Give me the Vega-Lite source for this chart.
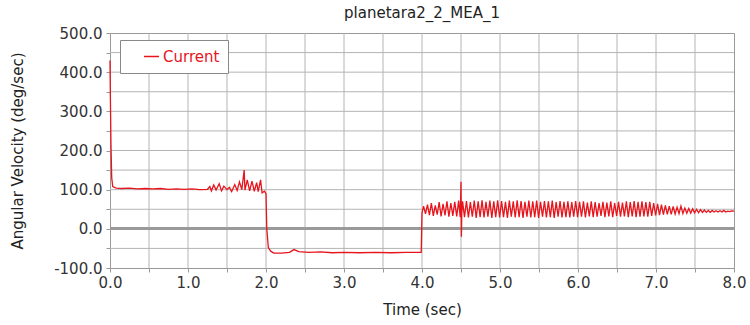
{
  "$schema": "https://vega.github.io/schema/vega-lite/v6.json",
  "width": 624,
  "height": 235,
  "autosize": {"type": "none"},
  "padding": {"left": 110, "top": 33, "right": 16, "bottom": 57},
  "title": {"text": "planetara2_2_MEA_1", "fontSize": 15, "fontWeight": "normal", "font": "DejaVu Sans", "color": "#222", "offset": 5},
  "config": {
    "view": {"stroke": "#999", "strokeWidth": 1},
    "axis": {
      "labelFont": "DejaVu Sans", "titleFont": "DejaVu Sans", "labelFontSize": 15, "titleFontSize": 15,
      "titleFontWeight": "normal", "labelColor": "#333", "titleColor": "#222",
      "domain": false, "tickColor": "#999", "tickSize": 4, "grid": false
    }
  },
  "data": {"values": [
    {"t": 0, "v": 430}, {"t": 0.004, "v": 350}, {"t": 0.012, "v": 220}, {"t": 0.022, "v": 130}, {"t": 0.035, "v": 108},
    {"t": 0.08, "v": 104}, {"t": 0.15, "v": 103}, {"t": 0.25, "v": 104}, {"t": 0.35, "v": 102}, {"t": 0.45, "v": 103},
    {"t": 0.55, "v": 102}, {"t": 0.65, "v": 103}, {"t": 0.75, "v": 101}, {"t": 0.85, "v": 102}, {"t": 0.95, "v": 101},
    {"t": 1.05, "v": 102}, {"t": 1.15, "v": 100}, {"t": 1.25, "v": 101},
    {"t": 1.28, "v": 108}, {"t": 1.3, "v": 97}, {"t": 1.33, "v": 112}, {"t": 1.36, "v": 99}, {"t": 1.4, "v": 115},
    {"t": 1.43, "v": 97}, {"t": 1.46, "v": 109}, {"t": 1.5, "v": 100}, {"t": 1.53, "v": 106}, {"t": 1.56, "v": 95},
    {"t": 1.6, "v": 113}, {"t": 1.63, "v": 98}, {"t": 1.66, "v": 120}, {"t": 1.69, "v": 100}, {"t": 1.72, "v": 150},
    {"t": 1.73, "v": 99}, {"t": 1.76, "v": 125}, {"t": 1.79, "v": 97}, {"t": 1.82, "v": 122}, {"t": 1.85, "v": 96},
    {"t": 1.88, "v": 118}, {"t": 1.9, "v": 95}, {"t": 1.93, "v": 125}, {"t": 1.95, "v": 92}, {"t": 1.98, "v": 96},
    {"t": 2.0, "v": 90}, {"t": 2.01, "v": 0}, {"t": 2.03, "v": -48}, {"t": 2.06, "v": -57}, {"t": 2.1, "v": -62},
    {"t": 2.2, "v": -62}, {"t": 2.3, "v": -60}, {"t": 2.36, "v": -53}, {"t": 2.42, "v": -58}, {"t": 2.55, "v": -60},
    {"t": 2.7, "v": -59}, {"t": 2.85, "v": -61}, {"t": 3.0, "v": -60}, {"t": 3.2, "v": -61}, {"t": 3.4, "v": -60},
    {"t": 3.6, "v": -61}, {"t": 3.8, "v": -60}, {"t": 3.99, "v": -60}, {"t": 4.0, "v": 40},
    {"t": 4.02, "v": 58}, {"t": 4.045, "v": 38}, {"t": 4.07, "v": 62}, {"t": 4.095, "v": 35}, {"t": 4.12, "v": 66}, {"t": 4.145, "v": 33},
    {"t": 4.17, "v": 60}, {"t": 4.195, "v": 36}, {"t": 4.22, "v": 68}, {"t": 4.245, "v": 32}, {"t": 4.27, "v": 64}, {"t": 4.295, "v": 34},
    {"t": 4.32, "v": 70}, {"t": 4.345, "v": 31}, {"t": 4.37, "v": 66}, {"t": 4.395, "v": 33}, {"t": 4.42, "v": 69}, {"t": 4.445, "v": 32},
    {"t": 4.47, "v": 72}, {"t": 4.49, "v": 30}, {"t": 4.5, "v": 120}, {"t": 4.505, "v": -20}, {"t": 4.51, "v": 40},
    {"t": 4.52, "v": 70}, {"t": 4.545, "v": 30}, {"t": 4.57, "v": 71}, {"t": 4.595, "v": 29}, {"t": 4.62, "v": 68}, {"t": 4.645, "v": 31},
    {"t": 4.67, "v": 72}, {"t": 4.695, "v": 28}, {"t": 4.72, "v": 70}, {"t": 4.745, "v": 30}, {"t": 4.77, "v": 73}, {"t": 4.795, "v": 29},
    {"t": 4.82, "v": 69}, {"t": 4.845, "v": 31}, {"t": 4.87, "v": 72}, {"t": 4.895, "v": 28}, {"t": 4.92, "v": 70}, {"t": 4.945, "v": 30},
    {"t": 4.97, "v": 73}, {"t": 4.995, "v": 29}, {"t": 5.02, "v": 71}, {"t": 5.045, "v": 30}, {"t": 5.07, "v": 69}, {"t": 5.095, "v": 28},
    {"t": 5.12, "v": 72}, {"t": 5.145, "v": 31}, {"t": 5.17, "v": 70}, {"t": 5.195, "v": 29}, {"t": 5.22, "v": 73}, {"t": 5.245, "v": 30},
    {"t": 5.27, "v": 71}, {"t": 5.295, "v": 28}, {"t": 5.32, "v": 69}, {"t": 5.345, "v": 31}, {"t": 5.37, "v": 72}, {"t": 5.395, "v": 29},
    {"t": 5.42, "v": 70}, {"t": 5.445, "v": 30}, {"t": 5.47, "v": 72}, {"t": 5.495, "v": 28}, {"t": 5.52, "v": 69}, {"t": 5.545, "v": 31},
    {"t": 5.57, "v": 71}, {"t": 5.595, "v": 29}, {"t": 5.62, "v": 70}, {"t": 5.645, "v": 30}, {"t": 5.67, "v": 72}, {"t": 5.695, "v": 28},
    {"t": 5.72, "v": 68}, {"t": 5.745, "v": 31}, {"t": 5.77, "v": 71}, {"t": 5.795, "v": 29}, {"t": 5.82, "v": 69}, {"t": 5.845, "v": 30},
    {"t": 5.87, "v": 70}, {"t": 5.895, "v": 29}, {"t": 5.92, "v": 68}, {"t": 5.945, "v": 31}, {"t": 5.97, "v": 71}, {"t": 5.995, "v": 30},
    {"t": 6.02, "v": 69}, {"t": 6.045, "v": 31}, {"t": 6.07, "v": 70}, {"t": 6.095, "v": 29}, {"t": 6.12, "v": 67}, {"t": 6.145, "v": 32},
    {"t": 6.17, "v": 70}, {"t": 6.195, "v": 30}, {"t": 6.22, "v": 68}, {"t": 6.245, "v": 31}, {"t": 6.27, "v": 66}, {"t": 6.295, "v": 33},
    {"t": 6.32, "v": 69}, {"t": 6.345, "v": 30}, {"t": 6.37, "v": 67}, {"t": 6.395, "v": 32}, {"t": 6.42, "v": 70}, {"t": 6.445, "v": 30},
    {"t": 6.47, "v": 66}, {"t": 6.495, "v": 33}, {"t": 6.52, "v": 69}, {"t": 6.545, "v": 31}, {"t": 6.57, "v": 67}, {"t": 6.595, "v": 32},
    {"t": 6.62, "v": 70}, {"t": 6.645, "v": 30}, {"t": 6.67, "v": 68}, {"t": 6.695, "v": 32}, {"t": 6.72, "v": 71}, {"t": 6.745, "v": 30},
    {"t": 6.77, "v": 69}, {"t": 6.795, "v": 31}, {"t": 6.82, "v": 70}, {"t": 6.845, "v": 32}, {"t": 6.87, "v": 68}, {"t": 6.895, "v": 31},
    {"t": 6.92, "v": 69}, {"t": 6.945, "v": 33}, {"t": 6.97, "v": 66}, {"t": 6.995, "v": 34}, {"t": 7.02, "v": 64}, {"t": 7.045, "v": 35},
    {"t": 7.07, "v": 62}, {"t": 7.095, "v": 36}, {"t": 7.12, "v": 60}, {"t": 7.145, "v": 37}, {"t": 7.17, "v": 58}, {"t": 7.195, "v": 37},
    {"t": 7.22, "v": 57}, {"t": 7.245, "v": 38}, {"t": 7.27, "v": 55}, {"t": 7.295, "v": 39}, {"t": 7.32, "v": 58}, {"t": 7.345, "v": 39},
    {"t": 7.37, "v": 53}, {"t": 7.395, "v": 40}, {"t": 7.42, "v": 52}, {"t": 7.445, "v": 40}, {"t": 7.47, "v": 51}, {"t": 7.495, "v": 41},
    {"t": 7.52, "v": 50}, {"t": 7.545, "v": 41}, {"t": 7.57, "v": 49}, {"t": 7.595, "v": 42}, {"t": 7.62, "v": 48}, {"t": 7.645, "v": 42},
    {"t": 7.67, "v": 47}, {"t": 7.695, "v": 42}, {"t": 7.72, "v": 47}, {"t": 7.745, "v": 43}, {"t": 7.77, "v": 46}, {"t": 7.795, "v": 43},
    {"t": 7.82, "v": 46}, {"t": 7.845, "v": 43}, {"t": 7.87, "v": 47}, {"t": 7.895, "v": 43}, {"t": 7.92, "v": 45}, {"t": 7.945, "v": 44},
    {"t": 7.97, "v": 46}, {"t": 8.0, "v": 45}
  ]},
  "encoding": {
    "x": {
      "field": "t", "type": "quantitative",
      "scale": {"domain": [0, 8]},
      "axis": {
        "title": "Time (sec)", "grid": false,
        "values": [0, 0.5, 1, 1.5, 2, 2.5, 3, 3.5, 4, 4.5, 5, 5.5, 6, 6.5, 7, 7.5, 8],
        "labelExpr": "datum.value % 1 === 0 ? format(datum.value, '.1f') : ''",
        "labelPadding": 3, "titlePadding": 12, "labelFlush": false
      }
    },
    "y": {
      "field": "v", "type": "quantitative",
      "scale": {"domain": [-100, 500]},
      "axis": {
        "title": "Angular Velocity (deg/sec)", "grid": false,
        "values": [-100, -50, 0, 50, 100, 150, 200, 250, 300, 350, 400, 450, 500],
        "labelExpr": "datum.value % 100 === 0 ? replace(format(datum.value, '.1f'), '\u2212', '-') : ''",
        "labelPadding": 4, "titlePadding": 28, "labelFlush": false
      }
    }
  },
  "layer": [
    {
      "data": {"values": [{"t": 0.5}, {"t": 1}, {"t": 1.5}, {"t": 2}, {"t": 2.5}, {"t": 3}, {"t": 3.5}, {"t": 4}, {"t": 4.5}, {"t": 5}, {"t": 5.5}, {"t": 6}, {"t": 6.5}, {"t": 7}, {"t": 7.5}]},
      "mark": {"type": "rule", "color": "#b4b4b4", "strokeWidth": 1, "opacity": 1},
      "encoding": {"y": null}
    },
    {
      "data": {"values": [{"v": -50}, {"v": 50}, {"v": 100}, {"v": 150}, {"v": 200}, {"v": 250}, {"v": 300}, {"v": 350}, {"v": 400}, {"v": 450}]},
      "mark": {"type": "rule", "color": "#b4b4b4", "strokeWidth": 1, "opacity": 1},
      "encoding": {"x": null}
    },
    {
      "mark": {"type": "rule", "color": "#999", "strokeWidth": 2.5},
      "encoding": {"y": {"datum": 0, "type": "quantitative"}, "x": null}
    },
    {
      "mark": {"type": "line", "strokeWidth": 1.3},
      "encoding": {
        "color": {
          "datum": "Current",
          "scale": {"range": ["#e8141c"]},
          "legend": {
            "title": null, "orient": "none", "legendX": 10, "legendY": 7,
            "symbolType": "stroke", "symbolSize": 225, "symbolStrokeWidth": 1.5, "symbolOffset": 15,
            "labelColor": "#e8141c", "labelFont": "DejaVu Sans", "labelFontSize": 15, "labelOffset": 3,
            "padding": 8, "fillColor": "white", "strokeColor": "#888", "cornerRadius": 0
          }
        }
      }
    }
  ]
}
